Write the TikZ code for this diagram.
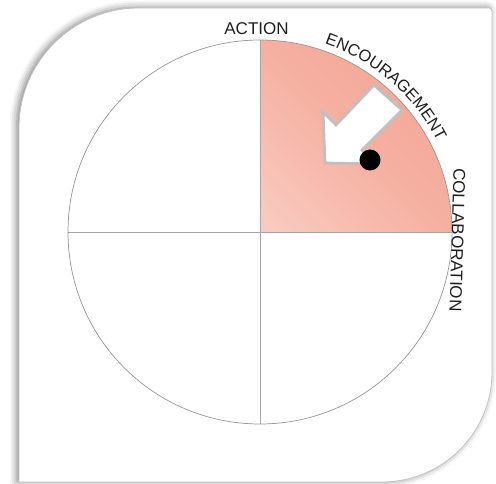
\documentclass[tikz,border=0pt]{standalone}
\usepackage{fontspec}
\setmainfont{Liberation Sans}
\usetikzlibrary{shadows.blur,decorations.text}
\definecolor{qL}{RGB}{251,216,207}
\definecolor{qM}{RGB}{245,176,161}
\definecolor{qD}{RGB}{240,155,137}
\definecolor{edgegray}{RGB}{195,195,195}
\definecolor{linegray}{RGB}{150,150,150}
\definecolor{crossgray}{RGB}{165,165,165}
\definecolor{arrowgray}{RGB}{192,192,192}
\definecolor{txt}{RGB}{30,30,30}
\pgfdeclarehorizontalshading{quadshade}{100bp}{color(0bp)=(qL); color(50bp)=(qM); color(100bp)=(qD)}
\begin{document}
\begin{tikzpicture}[x=1pt,y=1pt,
  lbl/.style={font=\fontsize{17}{20}\selectfont, inner sep=0pt, text=txt},
  card/.style={fill=white, draw=edgegray, line width=0.8pt,
    blur shadow={shadow xshift=-2.5pt, shadow yshift=0.5pt, shadow blur radius=7pt, shadow opacity=50}},
  rim/.style={draw=linegray, line width=0.7pt},
  axis/.style={draw=crossgray, line width=0.6pt},
  bigarrow/.style={fill=white, draw=arrowgray, line width=2.8pt, line join=miter}]
\useasboundingbox (0,0) rectangle (496,483);
% card
\path[card] (19,1) -- (19,355) arc[start angle=180,end angle=90,radius=120]
  -- (489,475) arc[start angle=90,end angle=0,radius=3]
  -- (492,111) arc[start angle=0,end angle=-90,radius=110] -- cycle;
\coordinate (O) at (260,251);
% shaded quadrant
\shade[shading=quadshade, shading angle=45] (O) -- ++(192,0) arc[start angle=0,end angle=90,radius=192] -- cycle;
% cross lines and circle
\draw[axis] ([xshift=-192pt]O) -- ([xshift=192pt]O);
\draw[axis] ([yshift=-192pt]O) -- ([yshift=192pt]O);
\draw[rim] (O) circle[radius=192];
% arrow and dot
\draw[bigarrow] (325,320) -- (323,371) -- (336,358) -- (374,398) -- (402,373) -- (362,333) -- (376,319) -- cycle;
\fill[black] (370,323) circle[radius=10.5];
% labels
\node[lbl] (action) at (256.5,454.5) {ACTION};
\node[lbl, rotate=-91.6] (collab) at (457.5,243) {COLLABORATION};
\path[decorate, decoration={text along path, text align=center,
  text={|\fontsize{16.5}{20}\selectfont\color{txt}|ENCOURAGEMENT}}]
  ([shift={(90:199)}]O) arc[start angle=90,end angle=8,radius=199];
\end{tikzpicture}
\end{document}
